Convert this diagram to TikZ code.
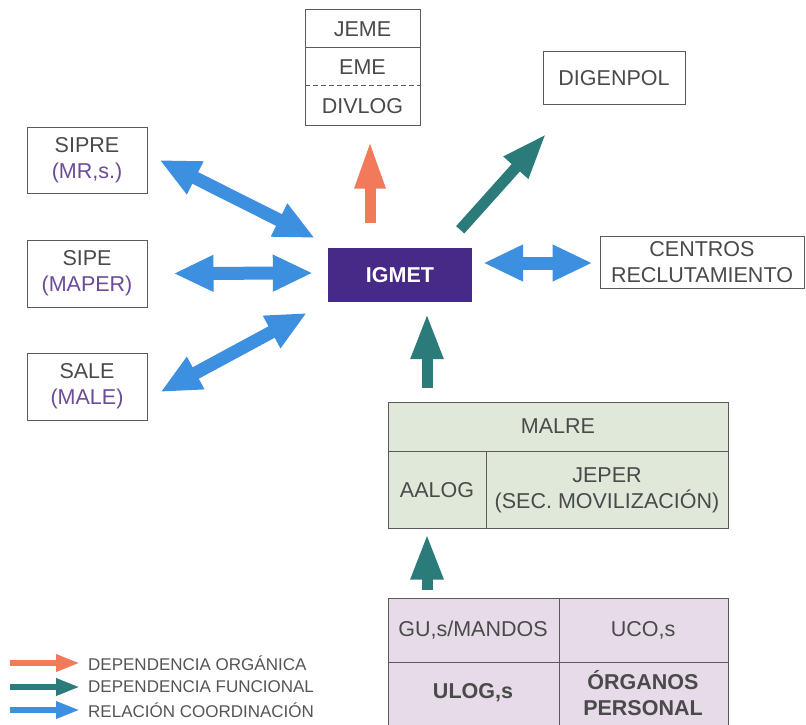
\documentclass[tikz,border=0pt]{standalone}
\usepackage{fontspec}
\setmainfont{Liberation Sans}
\usetikzlibrary{arrows.meta,calc}
\definecolor{txt}{HTML}{4A4A4A}
\definecolor{legtxt}{HTML}{555555}
\definecolor{subtxt}{HTML}{6B4C9A}
\definecolor{boxline}{HTML}{5A5A5A}
\definecolor{igm}{HTML}{472A87}
\definecolor{cblue}{HTML}{3D8FE0}
\definecolor{cteal}{HTML}{2B7B7A}
\definecolor{corange}{HTML}{F07A5A}
\definecolor{malrefill}{HTML}{DFE8D9}
\definecolor{botfill}{HTML}{E7DAE9}
\begin{document}
\begin{tikzpicture}[x=1pt,y=-1pt,
  lbl/.style={text=txt,font=\fontsize{21.5}{26}\selectfont,align=center,inner sep=0pt},
  bl/.style={lbl,font=\bfseries\fontsize{21.5}{26}\selectfont},
  leg/.style={text=legtxt,font=\fontsize{17}{20}\selectfont,anchor=west,inner sep=0pt},
  box/.style={draw=boxline,line width=1pt,inner sep=0pt},
  divider/.style={draw=boxline,line width=1pt},
  bluearrow/.style={draw=cblue,line width=13pt,{Triangle[length=40pt,width=34pt]}-{Triangle[length=40pt,width=34pt]}},
  tealarrow/.style={draw=cteal,line width=11pt,-{Triangle[length=46pt,width=30pt]}},
  orangearrow/.style={draw=corange,line width=11pt,-{Triangle[length=48pt,width=28pt]}},
  legarrow/.style={line width=6pt,-{Triangle[length=24pt,width=16pt]}},
]
\useasboundingbox (0,0) rectangle (806,725);
\fill[white] (0,0) rectangle (806,725);

% JEME / EME / DIVLOG
\node[box,minimum width=115pt,minimum height=115pt] (jeme) at (362.5,67.5) {};
\node[lbl] (jemet) at (362.5,29) {JEME};
\node[lbl] (eme) at (362.5,67) {EME};
\node[lbl] (divlog) at (362.5,106) {DIVLOG};
\draw[divider] (305,48) -- (420,48);
\draw[divider,dash pattern=on 5pt off 3pt] (305,86) -- (420,86);

% DIGENPOL
\node[box,lbl,draw=boxline,line width=1pt,minimum width=142pt,minimum height=52pt] (digenpol) at (614,78) {DIGENPOL};

% IGMET
\node[fill=igm,minimum width=144pt,minimum height=54pt,inner sep=0pt,text=white,font=\bfseries\fontsize{21.5}{26}\selectfont] (igmet) at (400,275) {IGMET};

% Centros
\node[box,lbl,draw=boxline,line width=1pt,minimum width=204pt,minimum height=52pt] (centros) at (702,262) {CENTROS\\RECLUTAMIENTO};

% Left boxes
\node[box,lbl,draw=boxline,line width=1pt,minimum width=120pt,minimum height=66pt] (sipre) at (87,160) {SIPRE\\\textcolor{subtxt}{(MR,s.)}};
\node[box,lbl,draw=boxline,line width=1pt,minimum width=120pt,minimum height=67pt] (sipe) at (87,273.5) {SIPE\\\textcolor{subtxt}{(MAPER)}};
\node[box,lbl,draw=boxline,line width=1pt,minimum width=120pt,minimum height=67pt] (sale) at (87,386.5) {SALE\\\textcolor{subtxt}{(MALE)}};

% MALRE
\node[box,fill=malrefill,minimum width=340pt,minimum height=126pt] (malre) at (558,465) {};
\draw[divider] (388,451) -- (728,451);
\draw[divider] (486,451) -- (486,528);
\node[lbl] (malret) at (558,426) {MALRE};
\node[lbl] (aalog) at (437,490) {AALOG};
\node[lbl] (jeper) at (607,490) {JEPER\\(SEC. MOVILIZACIÓN)};

% Bottom units
\node[fill=botfill,minimum width=340pt,minimum height=130pt,inner sep=0pt] (units) at (558,663) {};
\draw[divider] (388,730) -- (388,598) -- (728,598) -- (728,730);
\draw[divider] (388,662) -- (728,662);
\draw[divider] (559,598) -- (559,730);
\node[lbl] (gus) at (473,630) {GU,s/MANDOS};
\node[lbl] (ucos) at (643,630) {UCO,s};
\node[bl] (ulogs) at (473,693) {ULOG,s};
\node[bl] (organos) at (643,693) {ÓRGANOS\\PERSONAL};

% Arrows
\draw[orangearrow] ($(igmet.north)+(-30,-25)$) -- ($(jeme.south)+(7.5,15)$);
\draw[tealarrow] ($(igmet.north east)+(-12,-18)$) -- ($(digenpol.south west)+(4,29)$);
\draw[bluearrow] ($(igmet.east)+(11,-12)$) -- ($(centros.west)+(-7,1)$);
\draw[bluearrow] ($(sipre.east)+(12,0)$) -- ($(igmet.west)+(-13,-37)$);
\draw[bluearrow] ($(sipe.east)+(26,0)$) -- ($(igmet.west)+(-15,-2)$);
\draw[bluearrow] ($(sale.east)+(13,5.5)$) -- ($(igmet.west)+(-21,38)$);
\draw[tealarrow] ($(malre.north)+(-131,-14)$) -- ($(igmet.south)+(27,11)$);
\draw[tealarrow] ($(units.north)+(-131,-8)$) -- ($(malre.south)+(-131,5)$);

% Legend
\coordinate (l1s) at (10,663); \coordinate (l1e) at (80,663);
\coordinate (l2s) at (10,687); \coordinate (l2e) at (80,687);
\coordinate (l3s) at (10,710); \coordinate (l3e) at (80,710);
\draw[legarrow,draw=corange] (l1s) -- (l1e);
\draw[legarrow,draw=cteal] (l2s) -- (l2e);
\draw[legarrow,draw=cblue] (l3s) -- (l3e);
\node[leg] (t1) at (88,663) {DEPENDENCIA ORGÁNICA};
\node[leg] (t2) at (88,687) {DEPENDENCIA FUNCIONAL};
\node[leg] (t3) at (88,710) {RELACIÓN COORDINACIÓN};
\end{tikzpicture}
\end{document}
